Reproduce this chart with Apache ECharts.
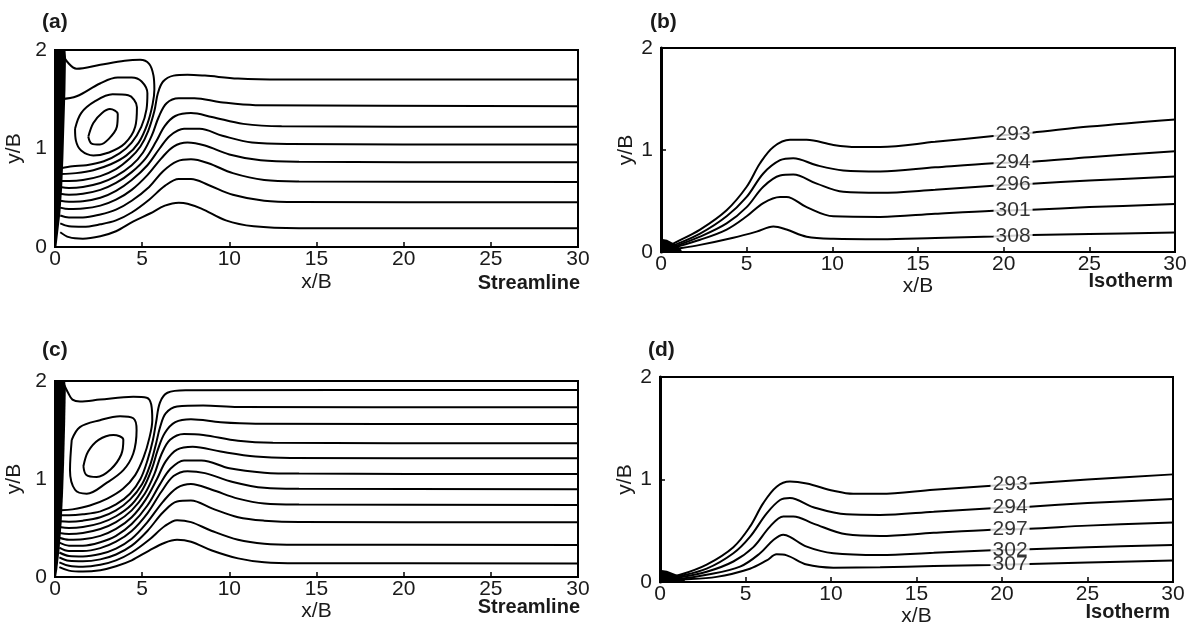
<!DOCTYPE html>
<html><head><meta charset="utf-8">
<script src="https://cdn.jsdelivr.net/npm/echarts@6/dist/echarts.min.js"></script>
<style>html,body{margin:0;padding:0;background:#fff}#chart{width:1196px;height:625px}</style>
</head><body><div id="chart"></div>
<script>
// ---------- tick labels ----------
const xTickValues = [0, 5, 10, 15, 20, 25, 30];
const yTickValues = [0, 1, 2];
const panelTags = ['(a)', '(b)', '(c)', '(d)'];
const panelKinds = ['Streamline', 'Isotherm', 'Streamline', 'Isotherm'];

// ---------- panel (a): streamlines ----------
const aWall = [[0,0],[0,2],[0.6,2],[0.63,1.93],[0.6,1.6],[0.53,1.2],[0.48,0.9],[0.41,0.6],[0.31,0.35],[0.18,0.15],[0.08,0]];
const aLine0 = [[0.3,0.15],[0.8,0.10],[1.6,0.085],[2.6,0.11],[3.5,0.16],[4.5,0.26],[5.45,0.34],[6.3,0.42],[7.1,0.45],[7.6,0.44],[8.4,0.39],[9.8,0.27],[11.4,0.21],[14,0.19],[30,0.19]];
const aLine1 = [[0.3,0.24],[0.8,0.21],[1.6,0.205],[2.6,0.23],[3.5,0.27],[4.4,0.35],[5.4,0.48],[6.3,0.62],[7.1,0.69],[7.8,0.69],[8.8,0.63],[10.2,0.53],[12,0.47],[14,0.457],[30,0.454]];
const aLine2 = [[0.3,0.32],[0.8,0.30],[1.6,0.30],[2.6,0.33],[3.5,0.38],[4.4,0.47],[5.4,0.61],[6.2,0.77],[7.0,0.87],[7.8,0.89],[8.8,0.85],[10.2,0.75],[12,0.68],[14,0.665],[30,0.66]];
const aLine3 = [[0.3,0.40],[0.8,0.385],[1.6,0.39],[2.6,0.42],[3.5,0.48],[4.4,0.58],[5.3,0.73],[6.1,0.90],[6.8,1.02],[7.6,1.06],[8.6,1.03],[10,0.94],[11.8,0.88],[14,0.865],[30,0.86]];
const aLine4 = [[0.3,0.47],[0.8,0.46],[1.6,0.465],[2.6,0.50],[3.5,0.57],[4.4,0.68],[5.3,0.83],[6.0,1.00],[6.6,1.13],[7.4,1.20],[8.3,1.20],[9.6,1.13],[11.3,1.06],[13.5,1.045],[30,1.04]];
const aLine5 = [[0.3,0.54],[0.8,0.53],[1.6,0.54],[2.6,0.58],[3.5,0.65],[4.4,0.76],[5.2,0.90],[5.8,1.07],[6.3,1.23],[6.9,1.33],[7.8,1.36],[9.0,1.32],[10.8,1.25],[13,1.225],[30,1.22]];
const aLine6 = [[0.3,0.61],[0.8,0.60],[1.6,0.61],[2.6,0.65],[3.5,0.72],[4.4,0.83],[5.05,0.96],[5.55,1.13],[5.95,1.32],[6.4,1.46],[7.1,1.51],[8.0,1.51],[9.5,1.47],[11.5,1.44],[30,1.43]];
const aLine7 = [[0.3,0.67],[0.8,0.67],[1.6,0.68],[2.6,0.72],[3.5,0.79],[4.3,0.90],[4.9,1.02],[5.35,1.18],[5.7,1.38],[5.9,1.56],[6.2,1.68],[6.8,1.74],[7.6,1.75],[8.6,1.74],[10.5,1.71],[13,1.70],[30,1.70]];
const aSep = [[0.4,1.97],[0.75,1.87],[1.24,1.81],[2.6,1.85],[4.0,1.89],[4.88,1.90],[5.4,1.86],[5.65,1.74],[5.7,1.60],[5.6,1.45],[5.3,1.25],[4.8,1.06],[4.1,0.93],[3.2,0.84],[2.2,0.78],[1.2,0.75],[0.35,0.74]];
const aOuter = [[0.35,1.50],[1.24,1.53],[2.58,1.66],[3.6,1.72],[4.4,1.72],[4.97,1.68],[5.3,1.56],[5.25,1.40],[4.95,1.22],[4.4,1.06],[3.7,0.95],[2.8,0.87],[1.8,0.83],[1.0,0.82],[0.35,0.80]];
const aMid = [[1.15,1.2],[1.5,1.36],[2.3,1.48],[3.3,1.55],[4.2,1.54],[4.7,1.42],[4.6,1.22],[4.0,1.05],[3.1,0.96],[2.2,0.93],[1.5,0.98],[1.2,1.08],[1.15,1.2]];
const aInner = [[1.91,1.12],[2.2,1.26],[2.7,1.36],[3.15,1.40],[3.6,1.35],[3.55,1.22],[3.1,1.10],[2.58,1.04],[2.1,1.05],[1.91,1.12]];

// ---------- panel (c): streamlines ----------
const cWall = [[0,0],[0,2],[0.58,2],[0.62,1.92],[0.58,1.55],[0.52,1.15],[0.46,0.85],[0.38,0.55],[0.26,0.28],[0.13,0.08],[0.06,0]];
const cLine0 = [[0.25,0.10],[0.8,0.065],[1.6,0.055],[2.6,0.07],[3.5,0.11],[4.4,0.17],[5.4,0.27],[6.3,0.35],[7.0,0.38],[7.8,0.36],[9.0,0.27],[10.5,0.19],[12,0.15],[14,0.14],[30,0.139]];
const cLine1 = [[0.25,0.15],[0.8,0.115],[1.6,0.105],[2.6,0.125],[3.5,0.17],[4.4,0.25],[5.4,0.38],[6.3,0.52],[7.0,0.58],[7.8,0.56],[9.0,0.47],[10.5,0.38],[12,0.34],[14,0.33],[30,0.327]];
const cLine2 = [[0.25,0.20],[0.8,0.165],[1.6,0.16],[2.6,0.18],[3.5,0.23],[4.4,0.32],[5.3,0.47],[6.2,0.66],[7.0,0.77],[7.8,0.78],[9.0,0.70],[10.5,0.61],[12,0.575],[14,0.56],[30,0.558]];
const cLine3 = [[0.25,0.25],[0.8,0.215],[1.6,0.21],[2.6,0.235],[3.5,0.29],[4.4,0.39],[5.3,0.56],[6.2,0.77],[7.0,0.91],[7.8,0.95],[9.0,0.89],[10.5,0.80],[12,0.75],[14,0.74],[30,0.735]];
const cLine4 = [[0.25,0.30],[0.8,0.265],[1.6,0.265],[2.6,0.295],[3.5,0.36],[4.4,0.47],[5.3,0.65],[6.1,0.87],[6.8,1.03],[7.6,1.08],[8.6,1.06],[10.2,0.97],[12,0.91],[14,0.90],[30,0.895]];
const cLine5 = [[0.25,0.35],[0.8,0.32],[1.6,0.32],[2.6,0.355],[3.5,0.42],[4.4,0.54],[5.3,0.73],[6.0,0.94],[6.6,1.10],[7.4,1.19],[8.4,1.19],[10,1.11],[12,1.065],[14,1.055],[30,1.051]];
const cLine6 = [[0.25,0.40],[0.8,0.38],[1.6,0.385],[2.6,0.42],[3.5,0.49],[4.4,0.61],[5.2,0.79],[5.85,1.00],[6.35,1.18],[7.0,1.30],[7.9,1.33],[9.5,1.28],[11.5,1.23],[13.5,1.215],[30,1.211]];
const cLine7 = [[0.25,0.45],[0.8,0.44],[1.6,0.45],[2.6,0.49],[3.5,0.56],[4.4,0.68],[5.15,0.85],[5.7,1.05],[6.1,1.25],[6.6,1.40],[7.4,1.46],[8.5,1.45],[10.5,1.39],[12.5,1.37],[30,1.364]];
const cLine8 = [[0.25,0.51],[0.8,0.50],[1.6,0.51],[2.6,0.55],[3.5,0.62],[4.4,0.74],[5.05,0.90],[5.55,1.10],[5.9,1.30],[6.3,1.47],[6.9,1.58],[7.8,1.61],[9.5,1.58],[11.5,1.565],[30,1.561]];
const cLine9 = [[0.25,0.57],[0.8,0.565],[1.6,0.575],[2.6,0.61],[3.5,0.68],[4.3,0.79],[5.0,0.95],[5.47,1.15],[5.78,1.35],[6.03,1.53],[6.35,1.67],[7.0,1.74],[8.5,1.75],[10.5,1.735],[30,1.731]];
const cLine10 = [[0.25,0.63],[0.8,0.63],[1.6,0.64],[2.6,0.67],[3.5,0.74],[4.3,0.85],[4.9,1.00],[5.32,1.20],[5.62,1.40],[5.8,1.58],[6.02,1.78],[6.45,1.88],[7.5,1.905],[30,1.908]];
const cSep = [[0.45,1.99],[0.75,1.88],[1.0,1.81],[1.43,1.79],[2.58,1.81],[4.49,1.84],[5.26,1.83],[5.52,1.76],[5.58,1.60],[5.43,1.43],[5.08,1.22],[4.6,1.04],[3.9,0.90],[3.0,0.80],[2.0,0.73],[1.0,0.69],[0.35,0.68]];
const cOuter = [[0.96,1.40],[1.43,1.53],[2.58,1.60],[3.73,1.64],[4.49,1.62],[4.68,1.50],[4.49,1.26],[3.92,1.09],[2.96,0.96],[1.82,0.85],[1.15,0.89],[0.86,1.09],[0.96,1.40]];
const cInner = [[1.63,1.13],[1.9,1.28],[2.5,1.40],[3.35,1.45],[3.92,1.40],[3.8,1.25],[3.2,1.10],[2.39,1.02],[1.8,1.04],[1.63,1.13]];

// ---------- panel (b): isotherms ----------
const bBlob = [[0,0],[0,0.13],[0.35,0.12],[0.9,0.07],[1.2,0.02],[1.2,0]];
const bLevels = ['293', '294', '296', '301', '308'];
const b293 = [[0.05,0.03],[0.91,0.10],[2.28,0.22],[3.83,0.41],[5.0,0.64],[5.78,0.87],[6.56,1.03],[7.53,1.10],[8.5,1.10],[10.06,1.05],[11.42,1.03],[12.8,1.03],[16,1.08],[19.4,1.137],[21.64,1.17],[25,1.23],[30,1.30]];
const b294 = [[0.05,0.02],[0.82,0.07],[2.28,0.18],[3.83,0.35],[5.0,0.54],[5.97,0.77],[6.95,0.90],[7.72,0.92],[9.09,0.85],[10.64,0.80],[12.8,0.79],[16,0.83],[19.4,0.87],[21.64,0.885],[25,0.93],[30,0.987]];
const b296 = [[0.05,0.015],[0.72,0.05],[2.28,0.15],[3.83,0.28],[5.0,0.44],[5.97,0.64],[6.95,0.75],[7.72,0.76],[9.09,0.67],[10.64,0.59],[12.8,0.58],[16,0.61],[19.4,0.65],[21.64,0.67],[25,0.70],[30,0.74]];
const b301 = [[0.05,0.01],[0.62,0.036],[2.28,0.12],[3.83,0.22],[5.0,0.35],[5.97,0.48],[6.95,0.54],[7.33,0.54],[8.5,0.44],[10.06,0.35],[12.8,0.344],[16,0.375],[19.4,0.405],[21.64,0.415],[25,0.44],[30,0.47]];
const b308 = [[0.05,0.005],[0.53,0.02],[2.28,0.07],[4.22,0.14],[5.58,0.20],[6.56,0.25],[7.33,0.22],[8.5,0.15],[10.06,0.13],[12.8,0.126],[16,0.138],[19.4,0.152],[21.64,0.166],[25,0.176],[30,0.19]];
const bLabelX = 20.55;

// ---------- panel (d): isotherms ----------
const dBlob = [[0,0],[0,0.12],[0.4,0.11],[1.0,0.07],[1.45,0.02],[1.45,0]];
const dLevels = ['293', '294', '297', '302', '307'];
const d293 = [[0.05,0.03],[1.17,0.07],[2.73,0.17],[4.29,0.34],[5.26,0.54],[6.04,0.77],[6.82,0.93],[7.6,0.98],[8.58,0.96],[10.14,0.89],[11.3,0.86],[12.87,0.86],[16,0.90],[19.4,0.94],[21.6,0.96],[25,1.0],[30,1.05]];
const d294 = [[0.05,0.02],[0.97,0.05],[2.73,0.13],[4.29,0.28],[5.26,0.44],[6.24,0.67],[7.02,0.80],[7.6,0.82],[8.97,0.73],[10.9,0.66],[12.87,0.654],[16,0.685],[19.4,0.72],[21.6,0.735],[25,0.77],[30,0.81]];
const d297 = [[0.05,0.015],[0.88,0.036],[2.73,0.10],[4.29,0.20],[5.46,0.34],[6.43,0.54],[7.21,0.64],[7.8,0.64],[8.97,0.57],[10.9,0.465],[12.87,0.45],[16,0.48],[19.4,0.51],[21.6,0.52],[25,0.55],[30,0.58]];
const d302 = [[0.05,0.01],[0.78,0.02],[2.73,0.07],[4.68,0.15],[5.85,0.28],[6.63,0.41],[7.21,0.46],[7.6,0.44],[8.58,0.345],[10.14,0.28],[12.87,0.263],[16,0.285],[19.4,0.31],[21.6,0.32],[25,0.34],[30,0.36]];
const d307 = [[0.05,0.005],[0.97,0.02],[3.31,0.05],[5.26,0.13],[6.24,0.21],[6.82,0.27],[7.41,0.26],[8.58,0.17],[10.14,0.14],[12.87,0.143],[16,0.155],[19.4,0.166],[21.6,0.176],[25,0.19],[30,0.21]];
const dLabelX = 20.47;

// ---------- layout ----------
const FONT = '"Liberation Sans", Arial, Helvetica, sans-serif';
const TXT = '#1a1a1a';
const grids = [
  {left: 55, top: 50, width: 523, height: 197},
  {left: 661, top: 48, width: 514, height: 204},
  {left: 55, top: 381, width: 523, height: 196},
  {left: 660, top: 377, width: 513, height: 205}
];
const xNameGap = [25, 21, 19, 24];
const yNameGap = [30, 24, 30, 24];
const leftAxisWidth = [2, 3, 2, 3];
const tagPos = [[42, 12], [650, 12], [42, 340], [648, 340]];
const kindPos = [[616, 273], [23, 271], [616, 597], [26, 602]];

function interpY(pts, x) {
  for (let i = 1; i < pts.length; i++) {
    if (pts[i][0] >= x) {
      const a = pts[i-1], b = pts[i];
      return a[1] + (b[1] - a[1]) * (x - a[0]) / (b[0] - a[0]);
    }
  }
  return pts[pts.length-1][1];
}

const series = [];
function addLine(pts, gi) {
  series.push({type: 'line', xAxisIndex: gi, yAxisIndex: gi, data: pts, showSymbol: false, symbol: 'none',
    smooth: 0.35, lineStyle: {color: '#000', width: 2}, silent: true, z: 2});
}
function addPoly(pts, gi) {
  series.push({type: 'custom', xAxisIndex: gi, yAxisIndex: gi, data: [[0, 0]], silent: true, z: 3,
    renderItem: (params, api) => ({type: 'polygon', shape: {points: pts.map(p => api.coord(p))}, style: {fill: '#000'}})});
}
function addLabels(lines, levels, lx, gi) {
  series.push({type: 'scatter', xAxisIndex: gi, yAxisIndex: gi, symbolSize: 0, silent: true, z: 6,
    data: lines.map((pts, i) => ({value: [lx, interpY(pts, lx)], name: levels[i]})),
    label: {show: true, position: 'inside', formatter: p => p.name, color: '#000', fontSize: 21, fontFamily: FONT,
      backgroundColor: '#fff', padding: [0, 2], lineHeight: 14}});
}

addPoly(aWall, 0);
[aLine0, aLine1, aLine2, aLine3, aLine4, aLine5, aLine6, aLine7, aSep, aOuter, aMid, aInner].forEach(l => addLine(l, 0));
addPoly(cWall, 2);
[cLine0, cLine1, cLine2, cLine3, cLine4, cLine5, cLine6, cLine7, cLine8, cLine9, cLine10, cSep, cOuter, cInner].forEach(l => addLine(l, 2));
const bLines = [b293, b294, b296, b301, b308];
addPoly(bBlob, 1);
bLines.forEach(l => addLine(l, 1));
addLabels(bLines, bLevels, bLabelX, 1);
const dLines = [d293, d294, d297, d302, d307];
addPoly(dBlob, 3);
dLines.forEach(l => addLine(l, 3));
addLabels(dLines, dLevels, dLabelX, 3);

const labelStyle = {color: TXT, fontSize: 21, fontFamily: FONT};
const option = {
  animation: false,
  backgroundColor: '#fff',
  title: [
    ...panelTags.map((t, i) => ({text: t, left: tagPos[i][0], top: tagPos[i][1], padding: 0,
      textStyle: {fontSize: 21, fontWeight: 'bold', color: TXT, fontFamily: FONT}})),
    ...panelKinds.map((t, i) => ({text: t, right: kindPos[i][0], top: kindPos[i][1], padding: 0,
      textStyle: {fontSize: 20, fontWeight: 'bold', color: TXT, fontFamily: FONT}}))
  ],
  grid: grids.map(g => Object.assign({show: true, borderColor: '#000', borderWidth: 2, backgroundColor: 'transparent',
    containLabel: false, outerBoundsMode: 'none'}, g)),
  xAxis: grids.map((g, i) => ({
    gridIndex: i, type: 'value', min: xTickValues[0], max: xTickValues[xTickValues.length-1], interval: 5,
    name: 'x/B', nameLocation: 'middle', nameGap: xNameGap[i], nameTextStyle: labelStyle,
    axisLine: {show: true, onZero: false, lineStyle: {color: '#000', width: 2}},
    axisTick: {show: true, inside: true, length: 5, lineStyle: {color: '#000', width: 1.5}},
    axisLabel: Object.assign({margin: 2}, labelStyle),
    splitLine: {show: false}
  })),
  yAxis: grids.map((g, i) => ({
    gridIndex: i, type: 'value', min: yTickValues[0], max: yTickValues[yTickValues.length-1], interval: 1,
    name: 'y/B', nameLocation: 'middle', nameGap: yNameGap[i], nameTextStyle: labelStyle,
    axisLine: {show: true, onZero: false, lineStyle: {color: '#000', width: leftAxisWidth[i]}},
    axisTick: {show: true, inside: true, length: 5, lineStyle: {color: '#000', width: 1.5}},
    axisLabel: Object.assign({margin: 8}, labelStyle),
    splitLine: {show: false}
  })),
  series: series
};
const chart = echarts.init(document.getElementById('chart'), null, {renderer: 'canvas'});
chart.setOption(option);
</script>
</body></html>
